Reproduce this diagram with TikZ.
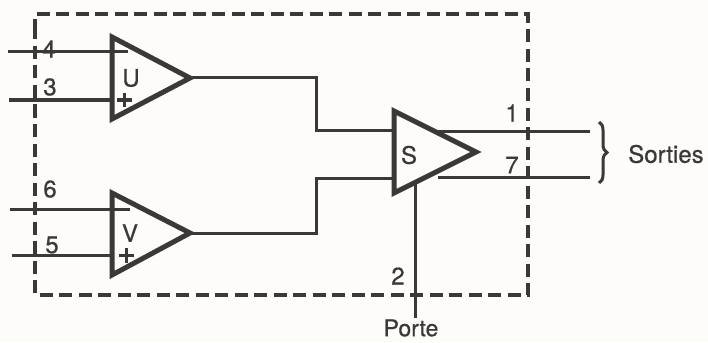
\documentclass[tikz,border=0pt]{standalone}
\usepackage{fontspec}
\setmainfont[FakeBold=0.6]{TeX Gyre Heros}
\usetikzlibrary{decorations.pathreplacing}
\definecolor{ink}{HTML}{3A3838}
\definecolor{paper}{HTML}{FDFCF8}
\tikzset{
  x=1pt,y=-1pt,
  wire/.style={draw=ink,line width=3pt},
  tri/.style={draw=ink,line width=5pt,line join=miter,fill=none},
  box/.style={draw=ink,line width=3.2pt,dash pattern=on 13pt off 6.5pt},
  lbl/.style={text=ink,inner sep=0pt,font=\fontsize{24}{26}\selectfont},
}
\begin{document}
\begin{tikzpicture}
\useasboundingbox[fill=paper] (0,0) rectangle (708,342);
% dashed enclosure
\draw[box] (35,32) -- (35,14) -- (528,14) -- (528,295) -- (35,295) -- cycle;
% coordinates
\coordinate (i4) at (8,52);   \coordinate (e4) at (128,52);
\coordinate (i3) at (9,100);  \coordinate (e3) at (112,100);
\coordinate (i6) at (10,209); \coordinate (e6) at (130,209);
\coordinate (i5) at (12,255); \coordinate (e5) at (112,255);
\coordinate (Ut) at (190,78); \coordinate (Vt) at (190,233);
\coordinate (Sa) at (394,130);\coordinate (Sb) at (394,178);
\coordinate (o1) at (590,131);\coordinate (o7) at (590,177);
\coordinate (a1) at (438,131);\coordinate (a7) at (438,177);
\coordinate (g1) at (415,184);\coordinate (g2) at (415,318);
% wires
\draw[wire] (i4) -- (e4);
\draw[wire] (i3) -- (e3);
\draw[wire] (i6) -- (e6);
\draw[wire] (i5) -- (e5);
\draw[wire] (Ut) -- (316,78) -- (316,130) -- (Sa);
\draw[wire] (Vt) -- (316,233) -- (316,178) -- (Sb);
\draw[wire] (a1) -- (o1);
\draw[wire] (a7) -- (o7);
\draw[wire] (g1) -- (g2);
% amplifiers
\draw[tri] (112,37) -- (Ut) -- (112,119) -- cycle;
\draw[tri] (112,193) -- (Vt) -- (112,275) -- cycle;
\draw[tri] (394,111) -- (476,152) -- (394,193) -- cycle;
% plus signs
\draw[wire] (124,93) -- (124,107);
\draw[wire] (117,100) -- (132,100);
\draw[wire] (126,248) -- (126,263);
\draw[wire] (119,255) -- (134,255);
% brace
\draw[draw=ink,line width=3pt,decorate,decoration={brace,amplitude=8pt}] (599,122) -- (599,183);
% labels
\node[lbl] (n4) at (49,49) {4};
\node[lbl] (n3) at (50,87) {3};
\node[lbl] (n6) at (50,189) {6};
\node[lbl] (n5) at (52,245) {5};
\node[lbl] (nU) at (131,78) {U};
\node[lbl] (nV) at (130,233) {V};
\node[lbl] (nS) at (409,155) {S};
\node[lbl] (n1) at (512,113) {1};
\node[lbl] (n7) at (512,165) {7};
\node[lbl] (n2) at (398,276) {2};
\node[lbl,font=\fontsize{23}{25}\selectfont] (porte) at (411,328) {Porte};
\node[lbl] (sorties) at (666,154) {Sorties};
\end{tikzpicture}
\end{document}
